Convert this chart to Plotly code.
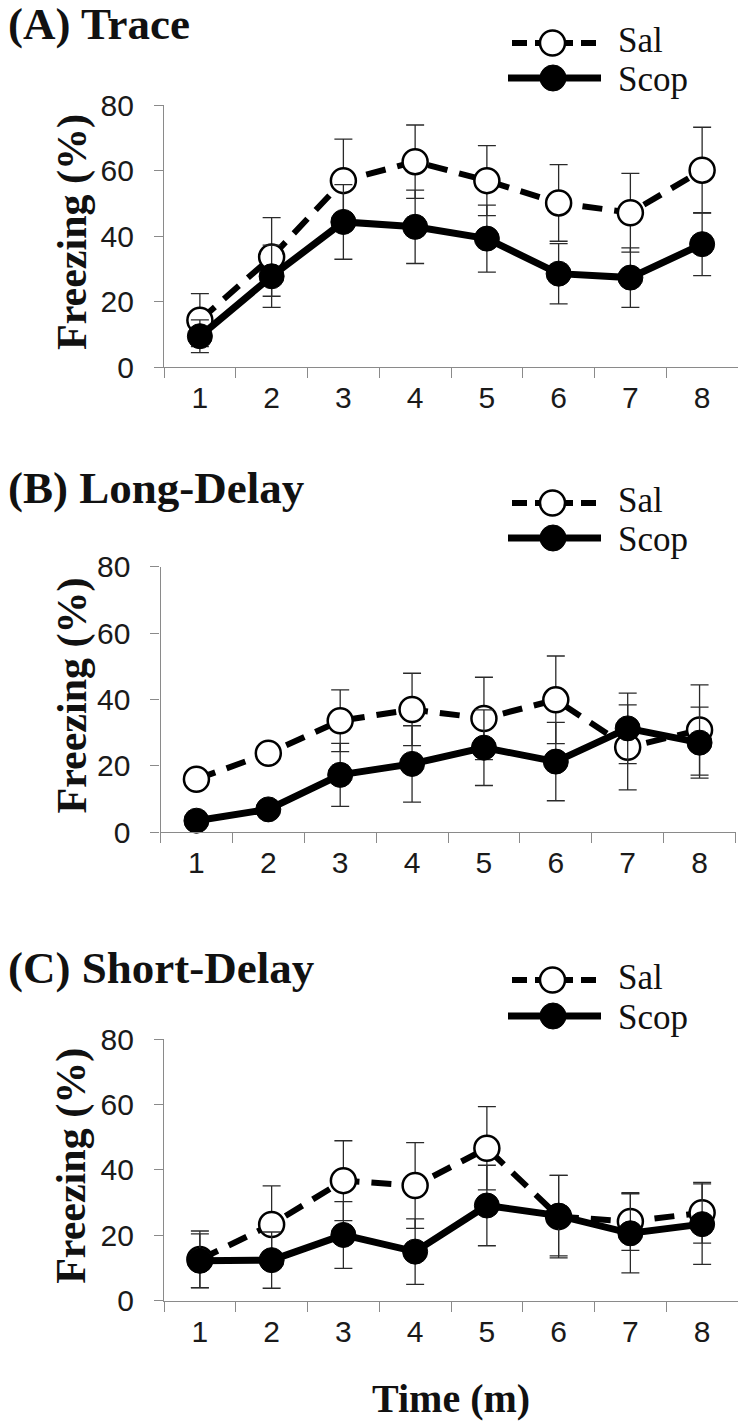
import plotly.graph_objects as go

# ---------------- data ----------------
minutes = ["1", "2", "3", "4", "5", "6", "7", "8"]

sal_trace = [14.3, 33.6, 56.9, 62.7, 56.9, 50.1, 47.1, 60.1]
sal_trace_err = [8.1, 12.0, 12.7, 11.2, 10.7, 11.7, 12.0, 13.1]
scop_trace = [9.4, 27.7, 44.3, 42.8, 39.2, 28.5, 27.3, 37.5]
scop_trace_err = [5.0, 9.5, 11.4, 11.2, 10.2, 9.2, 9.1, 9.6]

sal_long = [16.0, 23.8, 33.6, 37.0, 34.3, 39.9, 25.6, 30.8]
sal_long_err = [2.0, 2.0, 9.3, 10.9, 12.4, 13.2, 12.8, 13.6]
scop_long = [3.5, 6.9, 17.3, 20.6, 25.5, 21.3, 31.3, 27.0]
scop_long_err = [1.5, 2.0, 9.5, 11.5, 11.4, 11.8, 10.6, 10.7]

sal_short = [12.6, 23.3, 36.7, 35.2, 46.6, 25.7, 24.2, 26.9]
sal_short_err = [8.7, 11.8, 12.2, 13.1, 12.7, 12.6, 8.8, 9.3]
scop_short = [12.2, 12.4, 20.1, 15.0, 29.1, 26.0, 20.6, 23.4]
scop_short_err = [8.2, 8.6, 10.2, 10.0, 12.3, 12.3, 12.1, 12.3]

panel_titles = ["(A) Trace", "(B) Long-Delay", "(C) Short-Delay"]
series_names = ["Sal", "Scop"]
y_ticks = [0, 20, 40, 60, 80]
y_title = "Freezing (%)"
x_title = "Time (m)"

# ---------------- layout helpers ----------------
# the page body has an 8px margin, so the figure is drawn 8px in from the window corner
OFF = 8
W, H = 746 - OFF, 1425 - OFF


def px(x):
    return (x - OFF) / W


def py(y):
    return 1 - (y - OFF) / H


panels = [
    dict(sal=sal_trace, sal_err=sal_trace_err, scop=scop_trace, scop_err=scop_trace_err,
         x0=164, x1=738, top=105, bottom=367, title_y=24, leg_y=(43, 78)),
    dict(sal=sal_long, sal_err=sal_long_err, scop=scop_long, scop_err=scop_long_err,
         x0=160.5, x1=735.5, top=566.7, bottom=832.3, title_y=488, leg_y=(503, 538)),
    dict(sal=sal_short, sal_err=sal_short_err, scop=scop_short, scop_err=scop_short_err,
         x0=164, x1=738, top=1039, bottom=1300.7, title_y=968, leg_y=(980, 1016)),
]

AXIS_GREY = "#8a8a8a"
TICK_FONT = dict(family="Liberation Sans, Arial, sans-serif", size=30, color="#1a1a1a")
SERIF_BOLD = "Liberation Serif, Times New Roman, serif"

fig = go.Figure()
annotations = []
shapes = []

for i, p in enumerate(panels):
    sfx = "" if i == 0 else str(i + 1)
    xa, ya = "x" + sfx, "y" + sfx
    # Sal (open circles, dashed)
    fig.add_trace(go.Scatter(
        x=minutes, y=p["sal"], name=series_names[0], xaxis=xa, yaxis=ya,
        mode="lines+markers", cliponaxis=False,
        line=dict(color="black", width=6, dash="20px,12px"),
        marker=dict(symbol="circle", size=25, color="white",
                    line=dict(color="black", width=2.5)),
        error_y=dict(type="data", array=p["sal_err"], visible=True,
                     color="#2a2a2a", thickness=1.3, width=9),
    ))
    # Scop (filled circles, solid)
    fig.add_trace(go.Scatter(
        x=minutes, y=p["scop"], name=series_names[1], xaxis=xa, yaxis=ya,
        mode="lines+markers", cliponaxis=False,
        line=dict(color="black", width=7),
        marker=dict(symbol="circle", size=25, color="black",
                    line=dict(color="black", width=1)),
        error_y=dict(type="data", array=p["scop_err"], visible=True,
                     color="#2a2a2a", thickness=1.3, width=9),
    ))

    fig.update_layout(**{
        "xaxis" + sfx: dict(
            type="category", domain=[px(p["x0"]), min(1.0, px(p["x1"]))], anchor=ya,
            range=[-0.5, 7.5], showline=True, linecolor=AXIS_GREY, linewidth=1.3,
            ticks="outside", ticklen=10, tickwidth=1.3, tickcolor=AXIS_GREY,
            tickson="boundaries", tickfont=TICK_FONT, ticklabelstandoff=4,
            showgrid=False, zeroline=False, fixedrange=True, automargin=False,
        ),
        "yaxis" + sfx: dict(
            domain=[py(p["bottom"]), py(p["top"])], anchor=xa,
            range=[0, 80], tickvals=y_ticks, showline=True, linecolor=AXIS_GREY,
            linewidth=1.3, ticks="outside", ticklen=9, tickwidth=1.3,
            tickcolor=AXIS_GREY, tickfont=TICK_FONT, ticklabelstandoff=14,
            showgrid=False, zeroline=False, fixedrange=True, automargin=False,
        ),
    })

    # panel title
    annotations.append(dict(
        text="<b>%s</b>" % panel_titles[i], xref="paper", yref="paper",
        x=px(6), y=py(p["title_y"]), xanchor="left", yanchor="middle",
        showarrow=False, font=dict(family=SERIF_BOLD, size=45, color="#111"),
    ))
    # y-axis title
    annotations.append(dict(
        text="<b>%s</b>" % y_title, xref="paper", yref="paper",
        x=px(72), y=py((p["top"] + p["bottom"]) / 2 - 4), xanchor="center",
        yanchor="middle", textangle=-90, showarrow=False,
        font=dict(family=SERIF_BOLD, size=42, color="#111"),
    ))

    # legend (drawn manually to match the long line symbols)
    ys, yc = p["leg_y"]
    shapes.append(dict(type="line", xref="paper", yref="paper",
                       x0=px(512), x1=px(604), y0=py(ys), y1=py(ys),
                       line=dict(color="black", width=6, dash="15px,8px")))
    shapes.append(dict(type="circle", xref="paper", yref="paper",
                       x0=px(540), x1=px(565), y0=py(ys + 12.5), y1=py(ys - 12.5),
                       fillcolor="white", line=dict(color="black", width=2.5)))
    shapes.append(dict(type="line", xref="paper", yref="paper",
                       x0=px(508), x1=px(601), y0=py(yc), y1=py(yc),
                       line=dict(color="black", width=7)))
    shapes.append(dict(type="circle", xref="paper", yref="paper",
                       x0=px(540), x1=px(566), y0=py(yc + 13), y1=py(yc - 13),
                       fillcolor="black", line=dict(color="black", width=1)))
    for name, yy in zip(series_names, (ys - 3, yc + 1)):
        annotations.append(dict(
            text=name, xref="paper", yref="paper", x=px(616), y=py(yy),
            xanchor="left", yanchor="middle", showarrow=False,
            font=dict(family="Liberation Serif, Times New Roman, serif", size=35, color="#111"),
        ))

annotations.append(dict(
    text="<b>%s</b>" % x_title, xref="paper", yref="paper",
    x=px(451), y=py(1398), xanchor="center", yanchor="middle", showarrow=False,
    font=dict(family=SERIF_BOLD, size=40, color="#111"),
))

fig.update_layout(
    width=W, height=H, margin=dict(l=0, r=0, t=0, b=0, autoexpand=False),
    paper_bgcolor="white", plot_bgcolor="white", showlegend=False,
    annotations=annotations, shapes=shapes,
)

fig.write_html("out.html")
